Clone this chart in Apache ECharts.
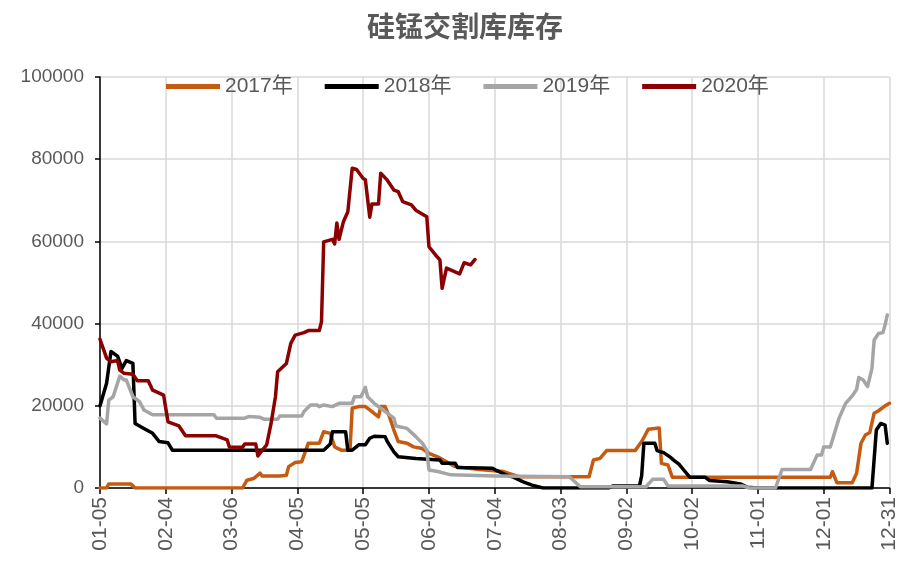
<!DOCTYPE html>
<html>
<head>
<meta charset="utf-8">
<script src="https://cdn.jsdelivr.net/npm/echarts@6/dist/echarts.min.js"></script>
<style>
html,body{margin:0;padding:0;background:#fff;}
#chart{width:900px;height:562px;}
</style>
</head>
<body>
<div id="chart"></div>
<script>
// x-axis tick labels (every 30 days, day offset 0..360 from 01-05)
const tickLabels = ['01-05','02-04','03-06','04-05','05-05','06-04','07-04','08-03','09-02','10-02','11-01','12-01','12-31'];
const seriesNames = ['2017年','2018年','2019年','2020年'];

// [day offset from 01-05, inventory]
const s2017 = [[0,0],[3,0],[4,1000],[14,1000],[16,0],[65,0],[67,1900],[70,2300],[73,3600],[74,2900],[82,2900],[85,3100],[86,5200],[89,6200],[92,6400],[95,10900],[100,10900],[102,13700],[105,13300],[107,10000],[110,9200],[114,9200],[115,19400],[118,19800],[121,19800],[123,19000],[124,18600],[127,17300],[128,19800],[130,19800],[132,17300],[134,14100],[136,11300],[140,10900],[143,10000],[147,9600],[150,8400],[154,7600],[158,6400],[162,5200],[173,4500],[184,4000],[191,2750],[223,2750],[225,6800],[228,7200],[231,9100],[244,9100],[247,11300],[250,14300],[255,14600],[256,6000],[259,5600],[261,2600],[333,2600],[334,4000],[336,1300],[343,1300],[345,3600],[347,10900],[349,12900],[351,13500],[353,18200],[355,18800],[358,20000],[360,20600]];

const s2018 = [[0,20000],[3,25500],[5,33200],[8,32100],[10,29100],[12,31000],[15,30300],[16,15700],[20,14500],[24,13300],[27,11300],[31,11000],[33,9200],[102,9200],[105,10700],[106,13700],[112,13700],[113,9200],[115,9200],[118,10500],[121,10500],[123,12100],[125,12600],[130,12500],[131,11300],[134,8800],[136,7600],[144,7200],[155,6800],[156,6000],[162,6000],[163,5000],[179,4800],[181,4200],[182,4000],[185,3200],[188,2750],[193,1500],[197,700],[202,0],[232,0],[234,500],[246,500],[247,3000],[248,10900],[253,10900],[254,9100],[257,8600],[260,7500],[262,6600],[264,5800],[266,4500],[269,2600],[276,2600],[278,1800],[286,1500],[292,1000],[295,200],[300,0],[352,0],[354,14100],[356,15700],[358,15300],[359,10900]];

const s2019 = [[0,17000],[3,15600],[4,21400],[6,22200],[9,27200],[11,26300],[12,26300],[15,22200],[18,21000],[20,19000],[24,17800],[52,17800],[53,17000],[66,17000],[68,17400],[73,17200],[75,16700],[81,16700],[82,17500],[92,17500],[93,18600],[96,20200],[99,20200],[100,19800],[102,20200],[106,19800],[109,20600],[115,20600],[116,22200],[119,22200],[121,24500],[122,22200],[125,20600],[128,19400],[131,18200],[134,17000],[135,15100],[140,14500],[144,12500],[147,10900],[149,9200],[150,4400],[154,4000],[160,3200],[180,2900],[214,2750],[219,300],[249,300],[252,2100],[257,2100],[259,500],[293,500],[296,0],[308,0],[311,4500],[324,4500],[327,8000],[329,8000],[330,10000],[333,10000],[337,17000],[340,20600],[343,22400],[345,24000],[346,26900],[348,26300],[350,24700],[352,29100],[353,36000],[355,37600],[357,37800],[358,39700],[359,42100]];

const s2020 = [[0,36200],[3,31600],[5,30700],[8,31000],[9,28700],[11,27900],[15,27700],[17,26100],[22,26100],[24,23800],[29,22600],[31,16100],[36,15100],[39,12700],[53,12700],[58,11700],[59,10000],[65,9900],[66,10700],[71,10700],[72,7800],[74,9200],[76,10500],[78,15700],[80,22200],[81,28300],[85,30300],[87,35200],[89,37200],[93,37800],[95,38300],[100,38300],[101,40500],[102,59900],[106,60500],[107,59400],[108,64500],[109,60500],[111,64800],[113,67200],[115,77800],[117,77500],[120,75300],[121,75000],[123,65900],[124,69100],[127,69100],[128,76600],[131,74900],[134,72500],[136,72100],[138,69700],[142,68900],[144,67600],[149,66000],[150,58700],[153,56700],[155,55500],[156,48600],[158,53500],[164,52100],[166,54800],[169,54300],[171,55600]];

const colors = ['#C55A11','#000000','#A5A5A5','#8B0000'];
const seriesData = [s2017, s2018, s2019, s2020];

const FONT = "'Liberation Sans','Noto Sans CJK SC',sans-serif";
const chart = echarts.init(document.getElementById('chart'), null, {renderer:'canvas'});
chart.setOption({
  animation: false,
  backgroundColor: '#ffffff',
  title: {
    text: '硅锰交割库库存',
    left: 460, top: 7, textAlign: 'center',
    textStyle: {fontFamily: "'Noto Sans CJK SC',sans-serif", fontSize: 28, fontWeight: 'bold', color: '#595959'}
  },
  legend: {
    data: seriesNames,
    left: 161, top: 71,
    icon: 'rect', itemWidth: 54, itemHeight: 5, itemGap: 32,
    textStyle: {fontFamily: FONT, fontSize: 21, color: '#595959'}
  },
  grid: {left: 100, right: 10, top: 77, bottom: 74},
  xAxis: {
    type: 'value', min: 0, max: 360, interval: 30,
    axisLine: {show: true, lineStyle: {color: '#000', width: 1.5}},
    axisTick: {show: true, length: 6, lineStyle: {color: '#000', width: 1.5}},
    axisLabel: {
      rotate: 90, margin: 9, color: '#595959', fontFamily: FONT, fontSize: 21,
      formatter: v => tickLabels[Math.round(v / 30)]
    },
    splitLine: {show: true, lineStyle: {color: '#D9D9D9', width: 1.5}}
  },
  yAxis: {
    type: 'value', min: 0, max: 100000, interval: 20000,
    axisLine: {show: true, lineStyle: {color: '#000', width: 1.5}},
    axisTick: {show: true, length: 5, lineStyle: {color: '#000', width: 1.5}},
    axisLabel: {margin: 16, color: '#595959', fontFamily: FONT, fontSize: 19, formatter: v => String(v)},
    splitLine: {show: true, lineStyle: {color: '#D9D9D9', width: 1.5}}
  },
  series: seriesNames.map((n, i) => ({
    name: n, type: 'line', data: seriesData[i], showSymbol: false, symbol: 'none',
    lineStyle: {color: colors[i], width: 3.5, join: 'round', cap: 'round'},
    itemStyle: {color: colors[i]}
  }))
});
</script>
</body>
</html>
